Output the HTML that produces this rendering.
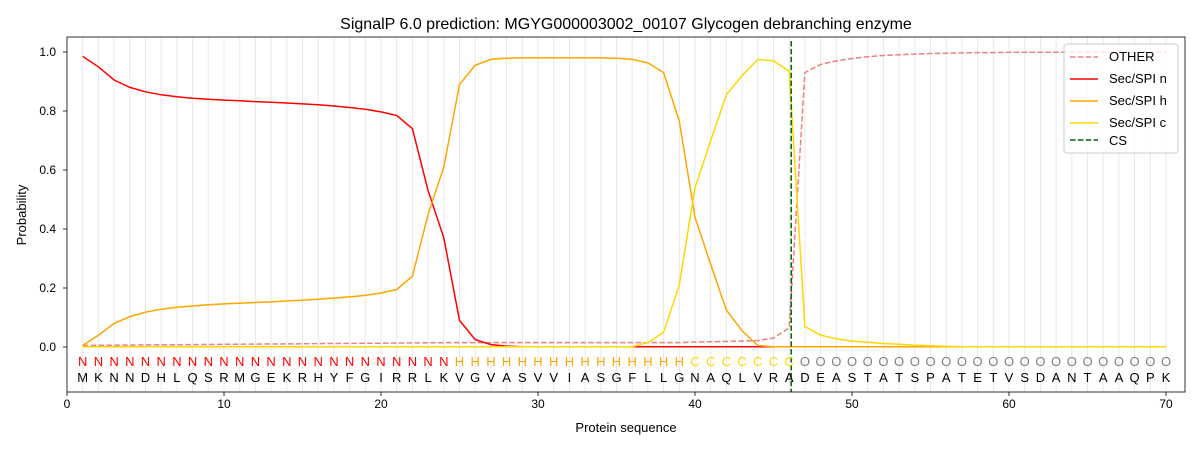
<!DOCTYPE html>
<html><head><meta charset="utf-8"><style>
body{margin:0;background:#fff;}
svg text{font-family:"Liberation Sans","DejaVu Sans",sans-serif;}
</style></head><body>
<svg id="s" width="1200" height="450" viewBox="0 0 1200 450" xmlns="http://www.w3.org/2000/svg">
<rect width="1200" height="450" fill="#fff"/>
<g id="grid"></g>
<g id="curves" fill="none" stroke-width="1.5"></g>
<line x1="791.2" y1="41" x2="791.2" y2="392" stroke="#006400" stroke-width="1.5" stroke-dasharray="5.5,2.4"/>
<rect x="67" y="37" width="1118" height="355" fill="none" stroke="#000" stroke-width="0.8"/>
<g id="ticks" stroke="#000" stroke-width="0.8"></g>
<g font-size="12" fill="#000">
<text x="67" y="408" text-anchor="middle">0</text>
<text x="224" y="408" text-anchor="middle">10</text>
<text x="381" y="408" text-anchor="middle">20</text>
<text x="538" y="408" text-anchor="middle">30</text>
<text x="695" y="408" text-anchor="middle">40</text>
<text x="852" y="408" text-anchor="middle">50</text>
<text x="1009" y="408" text-anchor="middle">60</text>
<text x="1166" y="408" text-anchor="middle">70</text>
<text x="56" y="351" text-anchor="end">0.0</text>
<text x="56" y="292" text-anchor="end">0.2</text>
<text x="56" y="233" text-anchor="end">0.4</text>
<text x="56" y="174" text-anchor="end">0.6</text>
<text x="56" y="115" text-anchor="end">0.8</text>
<text x="56" y="56" text-anchor="end">1.0</text>
<text x="626" y="432" text-anchor="middle" font-size="13">Protein sequence</text>
<text transform="translate(26,215) rotate(-90)" text-anchor="middle" font-size="13">Probability</text>
<text x="626" y="29" text-anchor="middle" font-size="16">SignalP 6.0 prediction: MGYG000003002_00107 Glycogen debranching enzyme</text>
</g>
<g font-size="13" text-anchor="middle">
<text id="top1" y="366" fill="#ff0000">NNNNNNNNNNNNNNNNNNNNNNNN</text>
<text id="top2" y="366" fill="#ffa500">HHHHHHHHHHHHHHH</text>
<text id="top3" y="366" fill="#ffd700">CCCCCCC</text>
<text id="top4" y="366" fill="#808080">OOOOOOOOOOOOOOOOOOOOOOOO</text>
<text id="bot" y="382" fill="#000">MKNNDHLQSRMGEKRHYFGIRRLKVGVASVVIASGFLLGNAQLVRADEASTATSPATETVSDANTAAQPK</text>
</g>
<g>
<rect x="1064" y="44" width="114" height="109" rx="3" fill="#fff" fill-opacity="0.8" stroke="#ccc"/>
<line x1="1070" y1="57" x2="1098" y2="57" stroke="#f08080" stroke-width="1.5" stroke-dasharray="5.5,2.4"/>
<line x1="1070" y1="79" x2="1098" y2="79" stroke="#ff0000" stroke-width="1.5"/>
<line x1="1070" y1="101" x2="1098" y2="101" stroke="#ffa500" stroke-width="1.5"/>
<line x1="1070" y1="123" x2="1098" y2="123" stroke="#ffd700" stroke-width="1.5"/>
<line x1="1070" y1="140" x2="1098" y2="140" stroke="#006400" stroke-width="1.5" stroke-dasharray="5.5,2.4"/>
<g font-size="13" fill="#000">
<text x="1109" y="61">OTHER</text>
<text x="1109" y="83">Sec/SPI n</text>
<text x="1109" y="105">Sec/SPI h</text>
<text x="1109" y="127">Sec/SPI c</text>
<text x="1109" y="145">CS</text>
</g>
</g>
</svg>
<script>
const X=i=>67+15.7*i, Y=v=>347-295*v;
const ns="http://www.w3.org/2000/svg";
const g=document.getElementById('grid'), t=document.getElementById('ticks'), c=document.getElementById('curves');
for(let i=1;i<=70;i++){const l=document.createElementNS(ns,'line');l.setAttribute('x1',X(i));l.setAttribute('x2',X(i));l.setAttribute('y1',37);l.setAttribute('y2',392);l.setAttribute('stroke','#e8e8e8');l.setAttribute('stroke-width','1');g.appendChild(l);}
for(let k=0;k<=70;k+=10){const l=document.createElementNS(ns,'line');l.setAttribute('x1',X(k));l.setAttribute('x2',X(k));l.setAttribute('y1',392);l.setAttribute('y2',396);t.appendChild(l);}
for(let k=0;k<=5;k++){const l=document.createElementNS(ns,'line');l.setAttribute('x1',63);l.setAttribute('x2',67);l.setAttribute('y1',Y(k*0.2));l.setAttribute('y2',Y(k*0.2));t.appendChild(l);}
function xs(a,b){let r=[];for(let i=a;i<=b;i++)r.push(X(i).toFixed(1));return r.join(' ');}
document.getElementById('top1').setAttribute('x',xs(1,24));
document.getElementById('top2').setAttribute('x',xs(25,39));
document.getElementById('top3').setAttribute('x',xs(40,46));
document.getElementById('top4').setAttribute('x',xs(47,70));
document.getElementById('bot').setAttribute('x',xs(1,70));
const pad=(a,v)=>{while(a.length<70)a.push(v);return a;};
const n=pad([0.985,0.95,0.905,0.88,0.865,0.855,0.848,0.843,0.84,0.837,0.835,0.832,0.83,0.827,0.824,0.821,0.817,0.812,0.806,0.797,0.785,0.74,0.53,0.37,0.09,0.025,0.008,0.003],0.001);
const h=pad([0.005,0.04,0.08,0.103,0.118,0.128,0.135,0.139,0.143,0.146,0.148,0.151,0.153,0.156,0.159,0.162,0.166,0.17,0.175,0.183,0.195,0.24,0.45,0.61,0.89,0.955,0.975,0.979,0.98,0.98,0.98,0.98,0.98,0.98,0.979,0.975,0.963,0.93,0.765,0.44,0.28,0.125,0.055,0.005],0.001);
let cc=[];for(let i=0;i<36;i++)cc.push(0.001);
cc=pad(cc.concat([0.015,0.05,0.21,0.54,0.7,0.855,0.92,0.975,0.97,0.935,0.07,0.04,0.028,0.02,0.016,0.012,0.009,0.006,0.004,0.002]),0.001);
let o=[];for(let i=1;i<=39;i++)o.push(0.005+0.01*i/25>0.015?0.015:0.005+0.01*i/25);
o=pad(o.concat([0.017,0.018,0.019,0.02,0.022,0.03,0.065,0.93,0.958,0.97,0.978,0.984,0.988,0.991,0.993,0.995,0.996,0.997,0.998,0.998]),0.999);
function path(a,col,dash){const p=document.createElementNS(ns,'path');p.setAttribute('d',a.map((v,i)=>(i?'L':'M')+X(i+1).toFixed(1)+','+Y(v).toFixed(1)).join(''));p.setAttribute('stroke',col);if(dash)p.setAttribute('stroke-dasharray','5.5,2.4');c.appendChild(p);}
path(o,'#f08080',1);path(n,'#ff0000');path(h,'#ffa500');path(cc,'#ffd700');
</script>
</body></html>
